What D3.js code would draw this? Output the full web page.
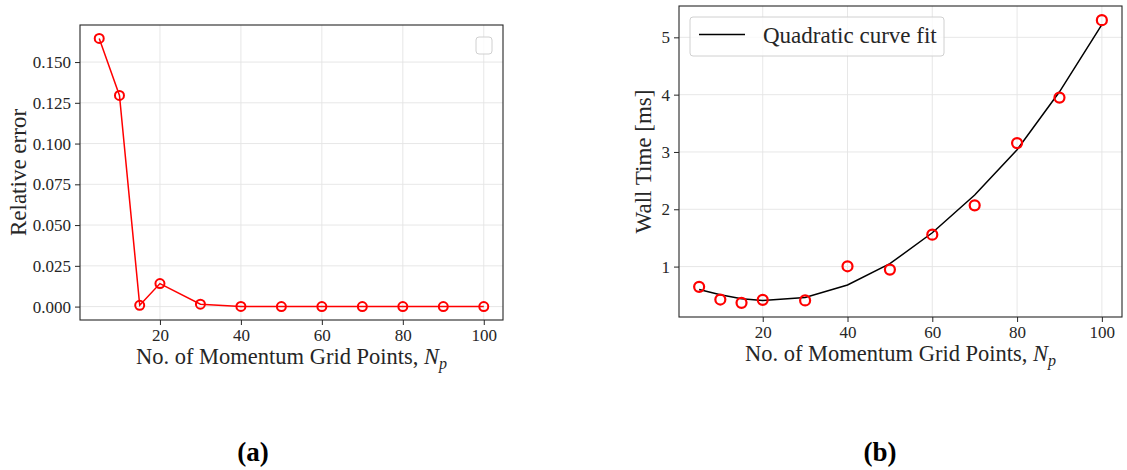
<!DOCTYPE html>
<html>
<head>
<meta charset="utf-8">
<script src="https://cdn.jsdelivr.net/npm/d3@7"></script>
<style>
  body { margin: 0; background: #fff; }
  svg { display: block; font-family: "Liberation Serif", "DejaVu Serif", serif; }
</style>
</head>
<body>
<svg width="1127" height="470"></svg>
<script>
// grid sizes on the x axis (both panels)
const gridPoints = [5, 10, 15, 20, 30, 40, 50, 60, 70, 80, 90, 100];
// panel (a): relative error
const relError = [0.1645, 0.1295, 0.0008, 0.0141, 0.0015, 0.0001, 0, 0, 0, 0, 0, 0];
// panel (b): measured wall time and quadratic fit, ms
const wallTime = [0.646, 0.425, 0.367, 0.42, 0.41, 1.005, 0.948, 1.557, 2.068, 3.155, 3.948, 5.30];
const quadFit = [0.60, 0.51, 0.44, 0.41, 0.46, 0.68, 1.05, 1.59, 2.25, 3.04, 4.05, 5.22];
// tick labels
const xTicks = [20, 40, 60, 80, 100];
const errTicks = [0, 0.025, 0.05, 0.075, 0.1, 0.125, 0.15];
const timeTicks = [1, 2, 3, 4, 5];

const serif = "'Liberation Serif', 'DejaVu Serif', serif";
const svg = d3.select("svg");

// matplotlib style 5% margins
function padded(vals) {
    const [lo, hi] = d3.extent(vals);
    const m = (hi - lo) * 0.05;
    return [lo - m, hi + m];
}

function panel(box, yDomain, yTicks, yFormat, yLabel, caption, captionX) {
    const g = svg.append("g");
    const x = d3.scaleLinear().domain(padded(gridPoints)).range([box.left, box.right]);
    const y = d3.scaleLinear().domain(yDomain).range([box.bottom, box.top]);

    // grid
    g.append("g").selectAll("line").data(xTicks).enter().append("line")
        .attr("x1", d => x(d)).attr("x2", d => x(d)).attr("y1", box.top).attr("y2", box.bottom)
        .attr("stroke", "#e4e4e4").attr("stroke-width", 0.9);
    g.append("g").selectAll("line").data(yTicks).enter().append("line")
        .attr("y1", d => y(d)).attr("y2", d => y(d)).attr("x1", box.left).attr("x2", box.right)
        .attr("stroke", "#e4e4e4").attr("stroke-width", 0.9);

    // axes
    const xAxis = d3.axisBottom(x).tickValues(xTicks).tickSize(5).tickPadding(4).tickFormat(d3.format("d"));
    const yAxis = d3.axisLeft(y).tickValues(yTicks).tickSize(5).tickPadding(4).tickFormat(yFormat);
    const ax = g.append("g").attr("transform", `translate(0,${box.bottom})`).call(xAxis);
    const ay = g.append("g").attr("transform", `translate(${box.left},0)`).call(yAxis);
    [ax, ay].forEach(a => {
        a.attr("font-family", serif).attr("font-size", 17);
        a.select(".domain").remove();
        a.selectAll("line").attr("stroke", "#262626");
        a.selectAll("text").attr("fill", "#262626");
    });

    g.append("rect").attr("x", box.left).attr("y", box.top)
        .attr("width", box.right - box.left).attr("height", box.bottom - box.top)
        .attr("fill", "none").attr("stroke", "#262626").attr("stroke-width", 1.1);

    // x label
    const xl = g.append("text").attr("x", (box.left + box.right) / 2).attr("y", box.bottom + 44)
        .attr("text-anchor", "middle").attr("fill", "#262626").style("font-size", "22.5px");
    xl.append("tspan").text("No. of Momentum Grid Points, ");
    xl.append("tspan").style("font-style", "italic").text("N");
    xl.append("tspan").style("font-style", "italic").style("font-size", "16px").attr("dy", 5).text("p");

    // y label
    g.append("text").attr("transform", `translate(${box.left - box.yLabelOff},${(box.top + box.bottom) / 2}) rotate(-90)`)
        .attr("text-anchor", "middle").attr("fill", "#262626").style("font-size", "23px").text(yLabel);

    // caption
    svg.append("text").attr("x", captionX).attr("y", 461).attr("text-anchor", "middle")
        .style("font-size", "27px").style("font-weight", "bold").attr("fill", "#000").text(caption);

    return {g, x, y};
}

// panel (a)
const A = panel({left: 80, right: 503, top: 25, bottom: 320, yLabelOff: 54},
    padded(relError), errTicks, d3.format(".3f"), "Relative error", "(a)", 253);
A.g.append("path").datum(gridPoints.map((d, i) => [d, relError[i]]))
    .attr("fill", "none").attr("stroke", "#ff0000").attr("stroke-width", 1.5)
    .attr("d", d3.line().x(d => A.x(d[0])).y(d => A.y(d[1])));
A.g.append("g").selectAll("circle").data(gridPoints).enter().append("circle")
    .attr("cx", d => A.x(d)).attr("cy", (d, i) => A.y(relError[i])).attr("r", 4.5)
    .attr("fill", "none").attr("stroke", "#ff0000").attr("stroke-width", 2);
// empty legend box
A.g.append("rect").attr("x", 476).attr("y", 37).attr("width", 16).attr("height", 17).attr("rx", 3)
    .attr("fill", "#fff").attr("fill-opacity", 0.8).attr("stroke", "#d0d0d0").attr("stroke-width", 1);

// panel (b)
const B = panel({left: 679, right: 1122, top: 6, bottom: 317, yLabelOff: 28},
    padded(wallTime.concat(quadFit)), timeTicks, d3.format("d"), "Wall Time [ms]", "(b)", 880);
B.g.append("path").datum(gridPoints.map((d, i) => [d, quadFit[i]]))
    .attr("fill", "none").attr("stroke", "#000").attr("stroke-width", 1.5)
    .attr("d", d3.line().x(d => B.x(d[0])).y(d => B.y(d[1])));
B.g.append("g").selectAll("circle").data(gridPoints).enter().append("circle")
    .attr("cx", d => B.x(d)).attr("cy", (d, i) => B.y(wallTime[i])).attr("r", 5)
    .attr("fill", "none").attr("stroke", "#ff0000").attr("stroke-width", 2.2);
// legend
const leg = B.g.append("g");
leg.append("rect").attr("x", 690).attr("y", 17).attr("width", 254).attr("height", 39).attr("rx", 3)
    .attr("fill", "#fff").attr("fill-opacity", 0.8).attr("stroke", "#d0d0d0").attr("stroke-width", 1);
leg.append("line").attr("x1", 699).attr("x2", 745).attr("y1", 34.5).attr("y2", 34.5)
    .attr("stroke", "#000").attr("stroke-width", 1.5);
leg.append("text").attr("x", 763).attr("y", 43).attr("fill", "#262626").style("font-size", "23px")
    .text("Quadratic curve fit");
</script>
</body>
</html>
